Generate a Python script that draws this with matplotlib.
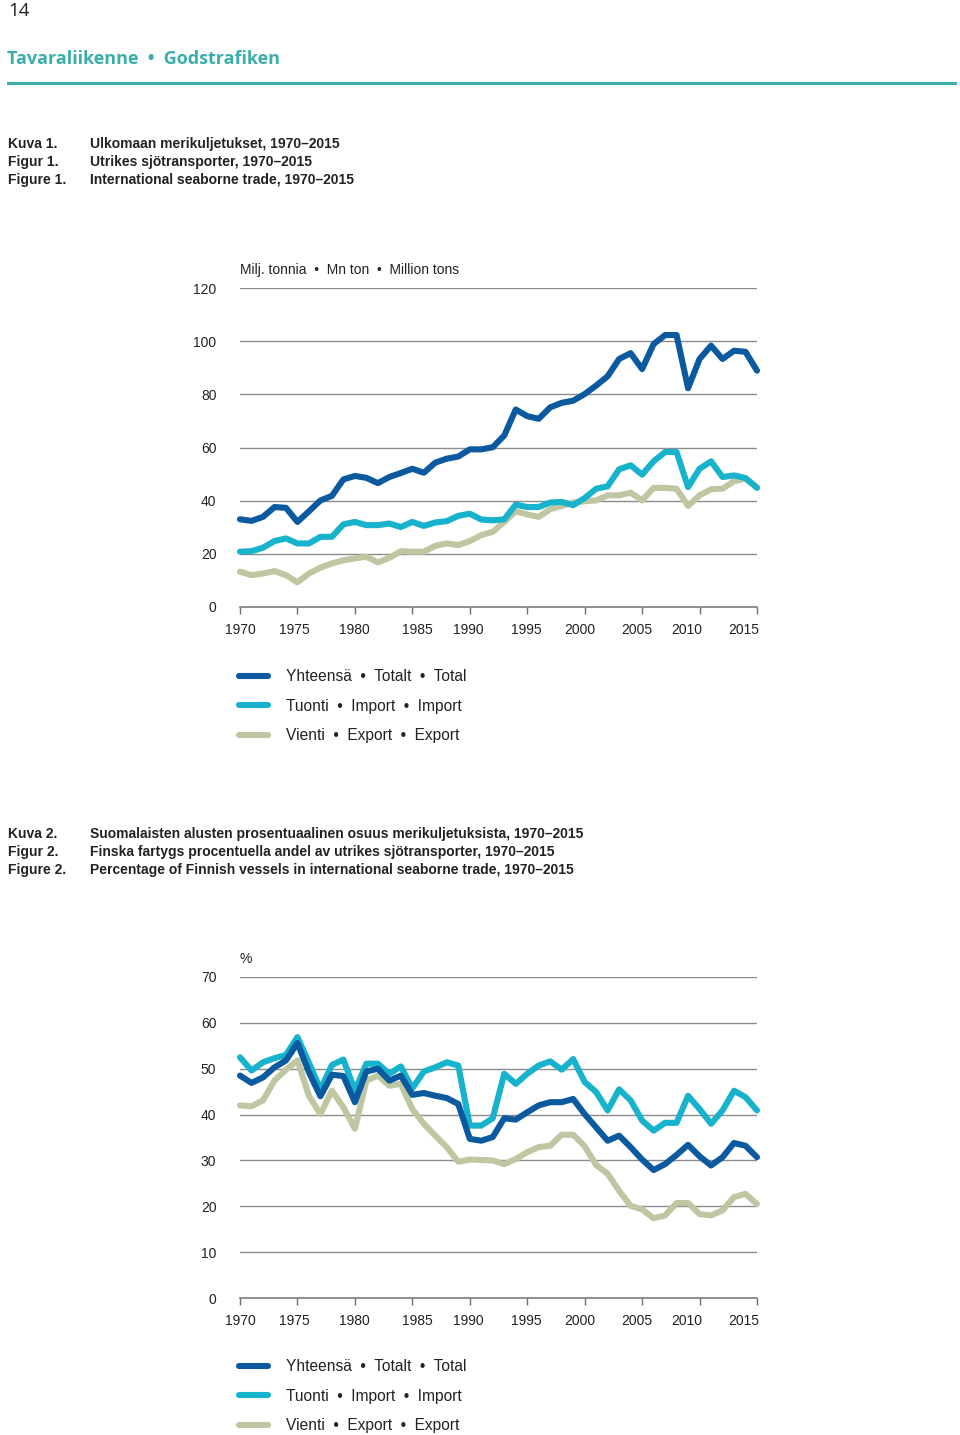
import numpy as np
import matplotlib
matplotlib.use('Agg')
import matplotlib.pyplot as plt
import matplotlib.transforms as mtransforms

plt.rcParams['font.family'] = ['Liberation Sans', 'DejaVu Sans']

# data
years = list(range(1970, 2016))

# Figure 1, million tons
total_tons = [33.0, 32.4, 33.9, 37.6, 37.3, 32.0, 36.0, 40.1, 41.8, 48.0,
              49.3, 48.6, 46.6, 48.9, 50.4, 52.0, 50.5, 54.3, 55.8, 56.6,
              59.3, 59.3, 60.1, 64.5, 74.3, 71.8, 70.8, 75.1, 76.8, 77.6,
              80.1, 83.3, 86.8, 93.3, 95.5, 89.5, 98.9, 102.3, 102.3, 82.3,
              93.3, 98.3, 93.3, 96.4, 96.0, 88.9]
import_tons = [20.8, 21.0, 22.3, 24.8, 25.8, 23.9, 23.9, 26.4, 26.4, 31.1,
               32.0, 30.8, 30.8, 31.4, 30.1, 32.0, 30.5, 31.8, 32.3, 34.3,
               35.1, 32.9, 32.6, 33.0, 38.5, 37.6, 37.6, 39.3, 39.5, 38.3,
               41.0, 44.5, 45.4, 51.8, 53.3, 49.8, 54.8, 58.3, 58.3, 45.1,
               52.0, 54.8, 48.9, 49.5, 48.5, 44.8]
export_tons = [13.3, 12.0, 12.6, 13.5, 12.0, 9.3, 12.6, 14.8, 16.4, 17.6,
               18.3, 18.9, 16.8, 18.5, 21.0, 20.8, 20.8, 23.0, 23.9, 23.3,
               24.8, 27.0, 28.3, 32.0, 36.0, 34.8, 33.9, 36.8, 38.0, 39.3,
               39.8, 40.1, 42.0, 42.0, 43.0, 40.1, 44.8, 44.8, 44.5, 38.0,
               42.0, 44.3, 44.5, 47.3, 48.3, 45.1]

# Figure 2, percent
total_pct = [48.5, 46.9, 48.1, 50.3, 51.8, 55.6, 49.2, 44.0, 48.7, 48.4,
             42.7, 49.4, 50.0, 47.4, 48.5, 44.3, 44.7, 44.1, 43.6, 42.3,
             34.7, 34.3, 35.1, 39.2, 38.9, 40.5, 42.0, 42.7, 42.7, 43.4,
             40.1, 37.2, 34.3, 35.4, 32.9, 30.2, 27.9, 29.2, 31.2, 33.4,
             30.9, 28.9, 30.7, 33.8, 33.2, 30.7]
import_pct = [52.5, 49.6, 51.4, 52.3, 53.0, 56.9, 51.3, 45.5, 50.8, 52.0,
              45.2, 51.1, 51.1, 48.9, 50.5, 45.7, 49.4, 50.3, 51.4, 50.7,
              37.6, 37.6, 39.2, 48.9, 46.7, 48.9, 50.7, 51.6, 49.8, 52.1,
              47.1, 44.9, 40.9, 45.5, 43.1, 38.7, 36.5, 38.2, 38.2, 44.1,
              41.2, 38.0, 40.9, 45.2, 43.8, 40.9]
export_pct = [42.0, 41.8, 43.1, 47.4, 49.8, 51.8, 44.1, 40.1, 45.2, 41.6,
              36.9, 47.4, 48.5, 46.3, 46.7, 41.2, 38.0, 35.4, 32.9, 29.7,
              30.2, 30.1, 30.0, 29.2, 30.3, 31.8, 32.9, 33.2, 35.6, 35.6,
              33.1, 29.0, 27.1, 23.4, 20.1, 19.3, 17.4, 18.0, 20.7, 20.7,
              18.3, 18.0, 19.1, 22.0, 22.7, 20.5]

series_labels = ['Yhteensä  •  Totalt  •  Total',
                 'Tuonti  •  Import  •  Import',
                 'Vienti  •  Export  •  Export']
colors = ['#0b5aa0', '#17b2cc', '#bfc6a2']
xticks = list(range(1970, 2016, 5))
xlabel_shift = [0, -3, -1, 5, -1, -1, -5, -5, -13, -13]  # px, as set in the original

TEAL = '#3aaeaa'
GRID = '#8c8c8c'
TEXT = '#222222'


def draw_chart(fig, rect, series, ymax, ystep, unit, legend_y):
    ax = fig.add_axes(rect)
    # draw in reverse so total is on top
    for vals, col in list(zip(series, colors))[::-1]:
        ax.plot(years, vals, color=col, lw=4.4, solid_capstyle='round',
                solid_joinstyle='round', clip_on=False, zorder=3)
    ax.set_xlim(1970, 2015)
    ax.set_ylim(0, ymax)
    yt = list(range(0, ymax + 1, ystep))
    ax.set_yticks(yt)
    ax.set_yticklabels([str(v) for v in yt])
    for v in yt[1:]:
        ax.axhline(v, color=GRID, lw=1.0, zorder=1)
    ax.set_xticks(xticks)
    ax.set_xticklabels([])
    # year labels are not quite centred under their ticks in the original
    base = ax.get_xaxis_transform()
    for yr, dx in zip(xticks, xlabel_shift):
        off = mtransforms.ScaledTranslation(dx / 100, -0.16, fig.dpi_scale_trans)
        ax.text(yr, 0, str(yr), transform=base + off, ha='center', va='top',
                fontsize=10, color=TEXT)
    for s in ['top', 'right', 'left']:
        ax.spines[s].set_visible(False)
    ax.spines['bottom'].set_color('#707070')
    ax.spines['bottom'].set_linewidth(1.1)
    ax.tick_params(axis='y', length=0, pad=17, labelsize=10, labelcolor=TEXT)
    ax.tick_params(axis='x', length=5, width=1.0, color='#707070')
    uoff = mtransforms.ScaledTranslation(0, 0.18, fig.dpi_scale_trans)
    ax.text(0, 1.0, unit, transform=ax.transAxes + uoff, fontsize=10, color=TEXT,
            ha='left', va='center')
    handles = [plt.Line2D([], [], color=c, lw=4.4, solid_capstyle='round')
               for c in colors]
    fig.legend(handles, series_labels, loc='upper left',
               bbox_to_anchor=(233 / 960, legend_y), frameon=False,
               fontsize=11.2, handlelength=1.85, handletextpad=1.15,
               labelspacing=0.93, labelcolor=TEXT, borderaxespad=0)
    return ax


def captions(fig, y0, lines):
    for i, (a, b) in enumerate(lines):
        y = 1 - (y0 + i * 18) / 1435
        fig.text(8 / 960, y, a, fontsize=10, fontweight='bold', color=TEXT, va='center')
        fig.text(90 / 960, y, b, fontsize=10, fontweight='bold', color=TEXT, va='center')


def main():
    fig = plt.figure(figsize=(9.6, 14.35), dpi=100)

    fig.text(8 / 960, 1 - 11 / 1435, '14', fontsize=13.5, color=TEXT, va='center',
             family=['Open Sans', 'DejaVu Sans'])
    fig.text(7 / 960, 1 - 59 / 1435, 'Tavaraliikenne  •  Godstrafiken', fontsize=13,
             color=TEAL, va='center', fontweight='bold',
             family=['Open Sans', 'DejaVu Sans'])
    fig.add_artist(plt.Line2D([8 / 960, 955 / 960], [1 - 83 / 1435] * 2,
                              color=TEAL, lw=2.2, transform=fig.transFigure))

    captions(fig, 144, [('Kuva 1.', 'Ulkomaan merikuljetukset, 1970–2015'),
                        ('Figur 1.', 'Utrikes sjötransporter, 1970–2015'),
                        ('Figure 1.', 'International seaborne trade, 1970–2015')])
    draw_chart(fig, [240 / 960, 1 - 607 / 1435, 517 / 960, 319 / 1435],
               [total_tons, import_tons, export_tons], 120, 20,
               'Milj. tonnia  •  Mn ton  •  Million tons', 1 - 663 / 1435)

    captions(fig, 834, [('Kuva 2.', 'Suomalaisten alusten prosentuaalinen osuus merikuljetuksista, 1970–2015'),
                        ('Figur 2.', 'Finska fartygs procentuella andel av utrikes sjötransporter, 1970–2015'),
                        ('Figure 2.', 'Percentage of Finnish vessels in international seaborne trade, 1970–2015')])
    draw_chart(fig, [240 / 960, 1 - 1298 / 1435, 517 / 960, 321 / 1435],
               [total_pct, import_pct, export_pct], 70, 10, '%', 1 - 1353 / 1435)

    fig.savefig('out.png', dpi=100, facecolor='white')


if __name__ == '__main__':
    main()
